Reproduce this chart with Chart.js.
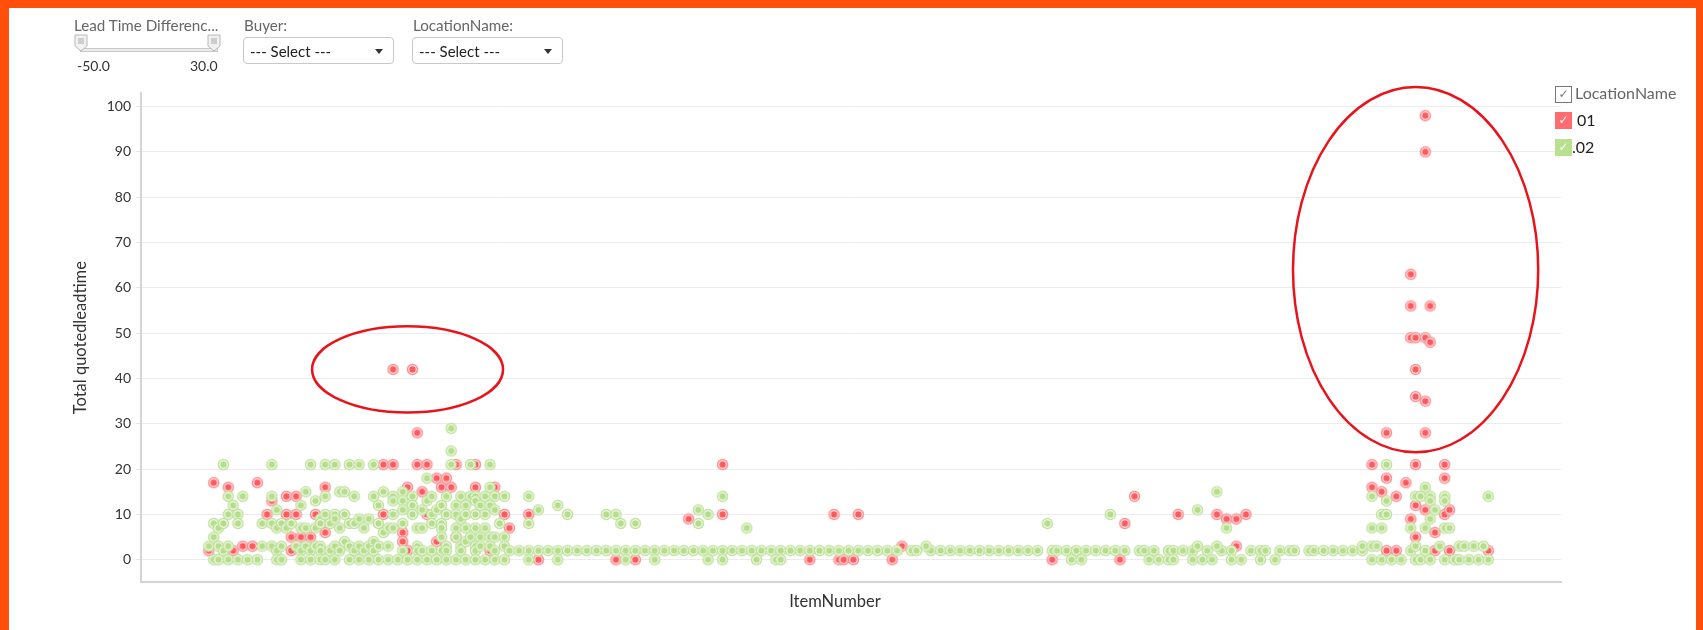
<!DOCTYPE html>
<html>
<head>
<meta charset="utf-8">
<script src="https://cdn.jsdelivr.net/npm/chart.js@4.4.0/dist/chart.umd.min.js"></script>
<style>
  body { margin: 0; background: #fff; font-family: Lato, "Open Sans", sans-serif; }
  #frame { position: relative; width: 1703px; height: 630px; overflow: hidden; background: #fff; }
  .edge { position: absolute; background: #ff4f0a; }
  #chart { position: absolute; left: 0; top: 0; }
  .lbl { position: absolute; font-size: 15.2px; color: #666; white-space: nowrap; line-height: 16px; }
  .num { position: absolute; font-size: 14px; color: #333; line-height: 14px; }
  .track { position: absolute; left: 80px; top: 48px; width: 136px; height: 2px; background: #ececec; border: 1px solid #c8c8c8; }
  .handle { position: absolute; top: 34px; }
  .select { position: absolute; top: 37px; width: 149px; height: 25px; border: 1px solid #c8c8c8; border-radius: 4px; background: #fff; }
  .select span { position: absolute; left: 6px; top: 4px; font-size: 15px; color: #222; }
  .select i { position: absolute; right: 10px; top: 11px; width: 0; height: 0; border-left: 4px solid transparent; border-right: 4px solid transparent; border-top: 5px solid #333; }
  .box { position: absolute; left: 1555px; width: 17px; height: 17px; color: #fff; font: 12px "DejaVu Sans", sans-serif; text-align: center; line-height: 17px; }
  .legtxt { position: absolute; font-size: 16px; line-height: 18px; white-space: nowrap; }
  #xtitle { position: absolute; left: 735px; top: 592px; width: 200px; text-align: center; font-size: 16.5px; line-height: 18px; color: #333; }
</style>
</head>
<body>
<div id="frame">
  <canvas id="chart" width="1703" height="630"></canvas>

  <div class="edge" style="left:0;top:0;width:1703px;height:8px"></div>
  <div class="edge" style="left:0;top:0;width:9px;height:630px"></div>
  <div class="edge" style="left:1696px;top:0;width:7px;height:630px"></div>

  <div class="lbl" style="left:74px;top:17px">Lead Time Differenc...</div>
  <div class="track"></div>
  <svg class="handle" style="left:74px" width="15" height="18"><path d="M1 1 H13 V12 L7 17 L1 12 Z" fill="#f1f1f1" stroke="#b8b8b8"/><path d="M5 4 V10 M7 4 V10 M9 4 V10" stroke="#aaa"/></svg>
  <svg class="handle" style="left:207px" width="15" height="18"><path d="M1 1 H13 V12 L7 17 L1 12 Z" fill="#f1f1f1" stroke="#b8b8b8"/><path d="M5 4 V10 M7 4 V10 M9 4 V10" stroke="#aaa"/></svg>
  <div class="num" style="left:77px;top:59px">-50.0</div>
  <div class="num" style="left:190px;top:59px">30.0</div>

  <div class="lbl" style="left:244px;top:17px">Buyer:</div>
  <div class="select" style="left:243px"><span>--- Select ---</span><i></i></div>
  <div class="lbl" style="left:413px;top:17px">LocationName:</div>
  <div class="select" style="left:412px"><span>--- Select ---</span><i></i></div>

  <div class="box" style="top:86px;width:15px;height:15px;border:1px solid #777;color:#777;line-height:15px">&#10003;</div>
  <div class="legtxt" style="left:1575px;top:84px;color:#666">LocationName</div>
  <div class="box" style="top:112px;background:#ff6b6f">&#10003;</div>
  <div class="legtxt" style="left:1577px;top:111px;color:#222">01</div>
  <div class="box" style="top:139px;background:#b9e08f">&#10003;</div>
  <div class="legtxt" style="left:1572px;top:138px;color:#222">.02</div>

  <div id="xtitle">ItemNumber</div>
</div>

<script>
// [ItemNumber position, Total quotedleadtime] for each location
const location01 = [
  [14,2],[15,17],[18,16],[19,2],[21,3],[23,3],[24,17],[26,10],[27,13],[30,14],[30,10],[31,5],[31,2],
  [32,14],[32,10],[33,5],[35,5],[36,10],[38,16],[38,6],[50,21],[50,10],[52,21],[52,42],[54,6],[54,4],
  [55,16],[55,2],[56,42],[57,21],[57,28],[58,15],[59,21],[59,10],[61,18],[61,4],[62,16],[63,18],[64,16],
  [65,21],[65,5],[69,21],[69,16],[72,2],[73,16],[75,10],[76,7],[80,10],[82,0],
  [98,0],[102,0],[113,9],[120,21],[120,10],[138,0],[143,10],[144,0],[145,0],[147,0],[148,10],[155,0],
  [157,3],[188,0],[202,0],[203,8],[205,14],[214,10],[222,10],[224,9],[226,9],[226,3],[228,10],
  [254,21],[254,16],[256,15],[257,18],[257,28],[257,2],[259,14],[259,2],[261,17],[262,63],[262,56],
  [262,49],[262,9],[263,21],[263,49],[263,42],[263,36],[263,12],[263,5],[265,98],[265,90],[265,49],
  [265,35],[265,28],[265,11],[266,56],[266,48],[267,6],[267,2],[269,21],[269,18],[269,10],[270,11],
  [270,2],[278,2]
];

const location02 = [
  [14,3],[15,8],[15,5],[15,0],[16,7],[16,3],[16,0],[17,21],[17,8],[17,2],[18,14],[18,10],[18,3],[18,0],
  [19,12],[20,10],[20,8],[20,0],[21,14],[22,0],[24,0],[25,8],[25,3],[27,21],[27,14],[27,8],[27,3],
  [28,11],[28,7],[28,2],[28,0],[29,8],[29,3],[29,0],[30,7],[31,8],[32,3],[33,12],[33,7],[33,2],[33,0],
  [34,15],[34,7],[34,3],[35,21],[35,2],[35,0],[36,13],[36,7],[36,3],[37,9],[37,8],[37,3],[37,2],[37,0],
  [38,21],[38,14],[38,10],[38,0],[39,8],[39,2],[40,21],[40,10],[40,9],[40,3],[40,0],[41,15],[41,7],
  [41,2],[42,15],[42,10],[42,4],[43,21],[43,8],[43,3],[43,0],[44,14],[44,8],[44,2],[45,21],[45,9],
  [45,3],[45,0],[46,7],[46,2],[47,9],[47,3],[47,0],[48,21],[48,14],[48,4],[48,2],[49,12],[49,8],[49,3],
  [49,0],[50,15],[50,6],[51,7],[51,3],[51,0],[52,14],[52,13],[52,10],[52,7],[53,0],[54,15],[54,13],
  [54,11],[54,8],[54,2],[55,0],[56,14],[56,12],[56,10],[57,7],[57,3],[57,2],[57,0],[58,11],[58,7],
  [58,2],[59,18],[59,13],[59,0],[60,14],[60,10],[60,8],[60,2],[61,11],[61,0],[62,12],[62,8],[62,7],
  [62,5],[62,2],[63,14],[63,10],[63,3],[63,2],[63,0],[64,29],[64,24],[64,21],[65,12],[65,10],[65,7],
  [65,5],[65,0],[66,14],[66,9],[66,3],[66,2],[67,12],[67,10],[67,7],[67,4],[67,0],[68,21],[68,14],
  [68,5],[69,14],[69,13],[69,10],[69,7],[69,3],[69,2],[69,0],[70,12],[70,5],[70,3],[71,14],[71,10],
  [71,7],[71,0],[72,21],[72,16],[72,12],[72,5],[72,3],[73,14],[73,11],[73,5],[73,2],[73,0],[74,8],
  [75,14],[75,5],[75,3],[75,0],[76,2],[78,2],[80,14],[80,8],[80,2],[80,0],[82,11],[82,2],[84,2],
  [86,12],[86,2],[86,0],[88,10],[88,2],[90,2],
  [92,2],[94,2],[96,2],[98,2],[100,2],[102,2],[104,2],[106,2],[108,2],[110,2],[112,2],[114,2],[116,2],
  [118,2],[120,2],[122,2],[124,2],[126,2],[128,2],[130,2],[132,2],[134,2],[136,2],[138,2],[140,2],
  [142,2],[144,2],[146,2],[148,2],[150,2],[152,2],[154,2],[156,2],[159,2],[160,2],[163,2],[165,2],
  [167,2],[169,2],[171,2],[173,2],[175,2],[177,2],[179,2],[181,2],[183,2],[185,2],[188,2],[189,2],
  [191,2],[193,2],[195,2],[197,2],[199,2],[201,2],[203,2],[206,2],[207,2],[209,2],[212,2],[213,2],
  [215,2],[217,2],[220,2],[223,2],[225,2],[229,2],[231,2],[232,2],[235,2],[237,2],[238,2],[241,2],
  [242,2],[244,2],[246,2],[248,2],[250,2],[252,2],
  [96,10],[98,10],[99,8],[102,8],[100,0],[106,0],[115,11],[115,8],[117,10],[117,0],[120,14],[120,0],
  [125,7],[127,0],[131,0],[132,0],[162,3],[187,8],[192,0],[194,0],[200,10],[208,0],[210,0],[212,0],
  [213,0],[217,0],[218,11],[218,3],[219,0],[221,0],[222,15],[222,3],[224,7],[225,0],[227,0],[231,0],
  [234,0],
  [252,3],[254,3],[254,14],[254,7],[254,0],[255,3],[256,10],[256,7],[256,0],[257,21],[257,13],[257,10],
  [258,0],[260,0],[262,7],[262,2],[263,14],[263,3],[263,0],[264,14],[264,0],[265,16],[265,7],[265,2],
  [266,14],[266,13],[266,9],[266,0],[267,11],[268,3],[269,14],[269,13],[269,7],[269,0],[270,7],[271,0],
  [272,3],[272,0],[273,3],[274,0],[275,3],[276,0],[277,3],[278,14],[278,0]
];

const itemRange = [0, 293];
const leadtimeRange = [-5, 103];

// red rings drawn over the chart, centred on an item / leadtime with a span in both units
const highlights = [
  { item: 55, leadtime: 42, itemSpan: 19.7, leadtimeSpan: 9.5 },
  { item: 263, leadtime: 64, itemSpan: 25.3, leadtimeSpan: 40.3 }
];

let ringPoint = (dot, ring) => {
  const c = document.createElement('canvas');
  c.width = 13; c.height = 13;
  const g = c.getContext('2d');
  g.fillStyle = ring; g.beginPath(); g.arc(6.5, 6.5, 5.7, 0, Math.PI * 2); g.fill();
  g.fillStyle = '#fff'; g.beginPath(); g.arc(6.5, 6.5, 4.2, 0, Math.PI * 2); g.fill();
  g.fillStyle = dot; g.beginPath(); g.arc(6.5, 6.5, 3.2, 0, Math.PI * 2); g.fill();
  return c;
};

const ellipsePlugin = {
  id: 'highlightEllipses',
  afterDatasetsDraw(chart) {
    const { ctx, scales: { x, y } } = chart;
    ctx.save();
    ctx.strokeStyle = '#e8131b';
    ctx.lineWidth = 2.5;
    highlights.forEach(h => {
      const cx = x.getPixelForValue(h.item);
      const cy = y.getPixelForValue(h.leadtime);
      const rx = Math.abs(x.getPixelForValue(h.item + h.itemSpan) - cx);
      const ry = Math.abs(y.getPixelForValue(h.leadtime + h.leadtimeSpan) - cy);
      ctx.beginPath();
      ctx.ellipse(cx, cy, rx, ry, 0, 0, Math.PI * 2);
      ctx.stroke();
    });
    ctx.restore();
  }
};

Chart.defaults.font.family = 'Lato, "Open Sans", sans-serif';

const ctx = document.getElementById('chart');
const chart = new Chart(ctx, {
  type: 'scatter',
  data: {
    datasets: [
      {
        label: '.02',
        data: location02.map(p => ({ x: p[0], y: p[1] })),
        pointStyle: ringPoint('#b6de8a', '#bfe29c'),
        radius: 5.5,
        order: 0
      },
      {
        label: '01',
        data: location01.map(p => ({ x: p[0], y: p[1] })),
        pointStyle: ringPoint('#ff585d', '#ff8c90'),
        radius: 5.5,
        order: 1
      }
    ]
  },
  options: {
    responsive: false,
    animation: false,
    events: [],
    layout: { padding: { left: 60, right: 142, top: 93, bottom: 10 } },
    plugins: { legend: { display: false }, tooltip: { enabled: false } },
    scales: {
      x: {
        type: 'linear',
        min: itemRange[0],
        max: itemRange[1],
        grid: { display: false },
        border: { display: true, color: '#d4d4d4', width: 2 },
        ticks: { display: false },
        title: { display: false },
        afterFit: (s) => { s.height = 37.6; }
      },
      y: {
        min: leadtimeRange[0],
        max: leadtimeRange[1],
        grid: { color: '#ececec', lineWidth: 1, tickLength: 5, tickColor: '#e4e4e4' },
        border: { display: true, color: '#d4d4d4', width: 2 },
        ticks: { stepSize: 10, includeBounds: false, color: '#333', font: { size: 14 }, padding: 5 },
        title: { display: true, text: 'Total quotedleadtime', color: '#333', font: { size: 16.5 }, padding: { top: 11, bottom: 4 } },
        afterFit: (s) => { s.width = 81; }
      }
    }
  },
  plugins: [ellipsePlugin]
});
</script>
</body>
</html>
